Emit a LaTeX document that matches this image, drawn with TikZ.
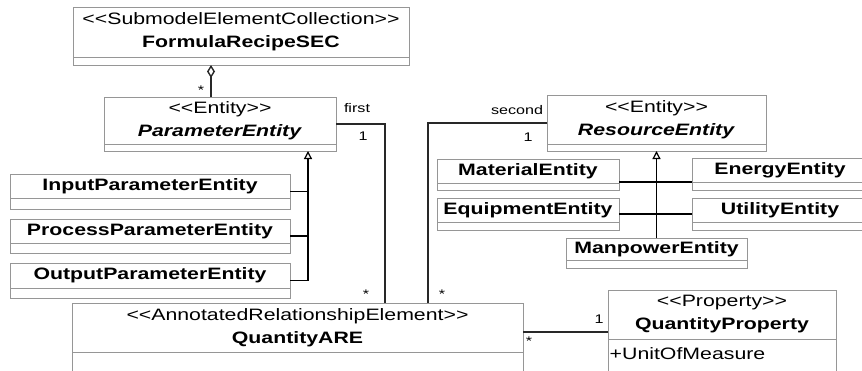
\documentclass[tikz,border=0pt]{standalone}
\usepackage{fontspec}
\setmainfont[FakeStretch=1.29]{Liberation Sans}
\usetikzlibrary{arrows.meta,positioning}
\definecolor{umlgray}{RGB}{150,150,150}
\definecolor{umlline}{RGB}{40,40,40}
\newcommand{\stereo}[1]{<\kern0pt<#1>\kern0pt>}

\begin{document}
\begin{tikzpicture}[x=1pt, y=-1pt]
	\tikzstyle{box} = [draw=umlgray, fill=white, inner sep=0pt, outer sep=0pt, line width=0.8pt]
	\tikzstyle{head} = [draw=umlgray, inner sep=0pt, outer sep=0pt, line width=0.8pt, align=center, font=\fontsize{16.5}{23}\selectfont]
	\tikzstyle{attr} = [inner sep=0pt, font=\fontsize{16.5}{23}\selectfont]
	\tikzstyle{mult} = [inner sep=0pt, font=\fontsize{12.5}{14}\selectfont]
	\tikzstyle{assoc} = [draw=umlline, line width=1.4pt]
	\tikzstyle{agg} = [assoc, -{Diamond[open, length=13pt, width=8pt]}]
	\tikzstyle{gen} = [draw=black, line width=1.8pt, -{Triangle[open, length=8pt, width=8pt, line width=1.2pt]}]
	\tikzstyle{branch} = [draw=black, line width=1.3pt]
	\useasboundingbox (0,0) rectangle (862,370);
	\clip (0,0) rectangle (862,370);
	% classes
	\node[box, minimum width=336, minimum height=58] (sec) at (241,36) {};
	\node[head, minimum width=336, minimum height=50, below=0pt of sec.north] (sec-h) {\stereo{SubmodelElementCollection}\\\textbf{FormulaRecipeSEC}};
	\node[box, minimum width=232, minimum height=54] (par) at (220,124) {};
	\node[head, minimum width=232, minimum height=47, below=0pt of par.north] (par-h) {\stereo{Entity}\\\textbf{\textit{ParameterEntity}}};
	\node[box, minimum width=280, minimum height=35] (inp) at (150,191.5) {};
	\node[head, minimum width=280, minimum height=24, below=0pt of inp.north] (inp-h) {\textbf{InputParameterEntity}};
	\node[box, minimum width=280, minimum height=34] (proc) at (150,236) {};
	\node[head, minimum width=280, minimum height=24, below=0pt of proc.north] (proc-h) {\textbf{ProcessParameterEntity}};
	\node[box, minimum width=280, minimum height=35] (outp) at (150,280.5) {};
	\node[head, minimum width=280, minimum height=25, below=0pt of outp.north] (outp-h) {\textbf{OutputParameterEntity}};
	\node[box, minimum width=451, minimum height=80] (are) at (297.5,343) {};
	\node[head, minimum width=451, minimum height=49, below=0pt of are.north] (are-h) {\stereo{AnnotatedRelationshipElement}\\\textbf{QuantityARE}};
	\node[box, minimum width=219, minimum height=56] (res) at (656.5,123) {};
	\node[head, minimum width=219, minimum height=49, below=0pt of res.north] (res-h) {\stereo{Entity}\\\textbf{\textit{ResourceEntity}}};
	\node[box, minimum width=182, minimum height=31] (mat) at (528,174.5) {};
	\node[head, minimum width=182, minimum height=24, below=0pt of mat.north] (mat-h) {\textbf{MaterialEntity}};
	\node[box, minimum width=176, minimum height=32] (ene) at (780,174) {};
	\node[head, minimum width=176, minimum height=24, below=0pt of ene.north] (ene-h) {\textbf{EnergyEntity}};
	\node[box, minimum width=182, minimum height=32] (equ) at (528,214) {};
	\node[head, minimum width=182, minimum height=24, below=0pt of equ.north] (equ-h) {\textbf{EquipmentEntity}};
	\node[box, minimum width=176, minimum height=32] (uti) at (780,214) {};
	\node[head, minimum width=176, minimum height=24, below=0pt of uti.north] (uti-h) {\textbf{UtilityEntity}};
	\node[box, minimum width=181, minimum height=30] (man) at (656.5,253) {};
	\node[head, minimum width=181, minimum height=22, below=0pt of man.north] (man-h) {\textbf{ManpowerEntity}};
	\node[box, minimum width=228, minimum height=84] (qp) at (722,332) {};
	\node[head, minimum width=228, minimum height=49, below=0pt of qp.north] (qp-h) {\stereo{Property}\\\textbf{QuantityProperty}};
	\node[attr, below right=8pt and 1.5pt of qp-h.south west] (qp-a) {+UnitOfMeasure};
	% aggregation
	\draw[agg] ([xshift=-9]par.north) -- ([xshift=-9]par.north |- sec.south);
	\node[mult] (agg-m) at ([xshift=-19,yshift=7]par.north) {*};
	% associations
	\draw[assoc] (par.east) -| ([xshift=87.5]are.north);
	\node[mult] (first-r) at ([xshift=21,yshift=16]par.east) {first};
	\node[mult] (first-m) at ([xshift=27,yshift=-12]par.east) {1};
	\node[mult] (first-s) at ([xshift=68.5,yshift=9]are.north) {*};
	\draw[assoc] (res.west) -| ([xshift=130.5]are.north);
	\node[mult] (second-r) at ([xshift=-30,yshift=13]res.west) {second};
	\node[mult] (second-m) at ([xshift=-19,yshift=-14]res.west) {1};
	\node[mult] (second-s) at ([xshift=144.5,yshift=9]are.north) {*};
	\draw[assoc] (qp.west) -- (qp.west -| are.east);
	\node[mult] (qp-m) at ([xshift=-9,yshift=13]qp.west) {1};
	\node[mult] (qp-s) at ([xshift=6,yshift=-9]qp.west -| are.east) {*};
	% generalizations
	\draw[gen] (outp.east) -| ([xshift=88]par.south);
	\draw[branch] (inp.east) -- ++(18,0);
	\draw[branch] (proc.east) -- ++(18,0);
	\draw[gen] (man.north) -- (man.north |- res.south);
	\draw[branch] ([yshift=-7.5]mat.east) -- ([yshift=-7.5]mat.east -| ene.west);
	\draw[branch] (equ.east) -- (uti.west);
\end{tikzpicture}
\end{document}
